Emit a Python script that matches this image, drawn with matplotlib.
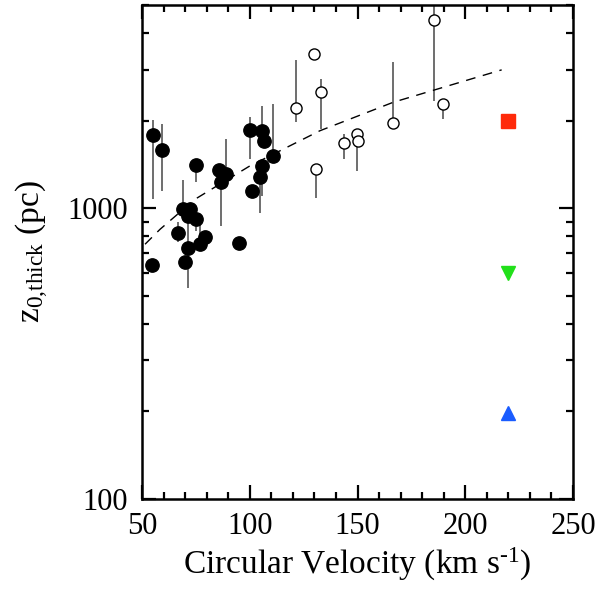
import numpy as np
import matplotlib
matplotlib.use("Agg")
import matplotlib.pyplot as plt
from matplotlib.ticker import MultipleLocator, FixedLocator, NullFormatter

plt.rcParams['font.family'] = 'serif'
plt.rcParams['font.serif'] = ['Liberation Serif', 'DejaVu Serif']
plt.rcParams['mathtext.fontset'] = 'custom'
plt.rcParams['mathtext.rm'] = 'Liberation Serif'
plt.rcParams['mathtext.it'] = 'Liberation Serif:italic'

# filled circles: velocity, scale height, error bar ends (nan = no bar)
v_fill = [54.9, 59.4, 75.1, 54.5, 66.9, 69.2, 72.3, 71.5, 75.1, 71.5, 70.0, 76.9,
          79.2, 95.2, 85.7, 89.0, 86.5, 101.0, 100.1, 105.8, 106.8, 111.0, 105.5, 104.8]
z_fill = [1786, 1585, 1407, 636, 824, 998, 992, 941, 917, 732, 653, 751,
          799, 762, 1355, 1310, 1232, 1144, 1862, 1849, 1698, 1514, 1392, 1276]
lo_fill = [1074, 1147, 1232, np.nan, 763, 998, np.nan, np.nan, 835, 533, np.nan, 751,
           np.nan, np.nan, np.nan, 1310, 869, np.nan, 1476, 1849, np.nan, 1514, 1102, 966]
hi_fill = [2014, 1948, 1407, np.nan, 896, 1252, np.nan, np.nan, 917, 941, np.nan, 880,
           np.nan, np.nan, np.nan, 1729, 1232, np.nan, 2054, 2254, np.nan, 2284, 1392, 1276]

# open circles
v_open = [121.5, 132.9, 130.7, 129.9, 185.7, 189.7, 166.6, 149.6, 150.1, 143.7]
z_open = [2207, 2507, 1363, 3397, 4428, 2284, 1958, 1799, 1698, 1675]
lo_open = [1985, 1873, 1088, np.nan, 2344, 2027, 1958, 1345, np.nan, 1476]
hi_open = [3236, 2785, 1363, np.nan, 4950, 2284, 3195, 1799, np.nan, 1799]

# dashed relation
v_fit = [51.4, 58.4, 74.6, 100.1, 132.6, 166.6, 216.9]
z_fit = [752, 847, 1074, 1399, 1848, 2315, 2992]

# single coloured markers
v_sq, z_sq = [220], [2000]
v_dn, z_dn = [220], [600]
v_up, z_up = [220], [197]

fig = plt.figure(figsize=(6.01, 5.90), dpi=100)
ax = fig.add_axes([0.2363, 0.1542, 0.7171, 0.8373])

def bars(v, z, lo, hi):
    v = np.array(v); z = np.array(z, float)
    lo = np.array(lo, float); hi = np.array(hi, float)
    m = ~np.isnan(lo)
    ax.vlines(v[m], lo[m], hi[m], color='#555555', lw=1.2, zorder=2)

bars(v_fill, z_fill, lo_fill, hi_fill)
bars(v_open, z_open, lo_open, hi_open)

ax.plot(v_fit, z_fit, ls=(0, (7, 5.5)), color='black', lw=1.0, zorder=3)

ax.plot(v_fill, z_fill, 'o', ms=9.6, color='black', zorder=4)
ax.plot(v_open, z_open, 'o', ms=8.0, mfc='white', mec='black', mew=1.0, zorder=4)

ax.plot(v_sq, z_sq, 's', ms=10.5, color='#ff2a0a', zorder=5)
ax.plot(v_dn, z_dn, 'v', ms=10.5, color='#22e01a', zorder=5)
ax.plot(v_up, z_up, '^', ms=10.5, color='#1a5cff', zorder=5)

ax.set_yscale('log')
ax.set_xlim(50, 250)
ax.set_ylim(100, 5000)

ax.xaxis.set_major_locator(FixedLocator([50, 100, 150, 200, 250]))
ax.xaxis.set_minor_locator(MultipleLocator(10))
ax.yaxis.set_major_locator(FixedLocator([100, 1000]))
ax.yaxis.set_minor_locator(FixedLocator([200, 300, 400, 500, 600, 700, 800, 900,
                                         2000, 3000, 4000, 5000]))
ax.yaxis.set_minor_formatter(NullFormatter())
ax.set_yticklabels(['100', '1000'])

ax.tick_params(which='both', direction='in', top=True, right=True, width=1.6)
ax.tick_params(which='major', length=10)
ax.tick_params(which='minor', length=5)
ax.tick_params(axis='x', which='major', labelsize=22, pad=9)
ax.tick_params(axis='y', which='major', labelsize=22, pad=10)
for s in ax.spines.values():
    s.set_linewidth(1.8)

ax.set_xlabel('Circular Velocity (km s$^{\\rm \u2010 1}$)', fontsize=24, labelpad=4)
ax.set_ylabel(r'z$_{\rm 0{,}thick}$ (pc)', fontsize=24, labelpad=12)

fig.savefig('out.png', dpi=100)
